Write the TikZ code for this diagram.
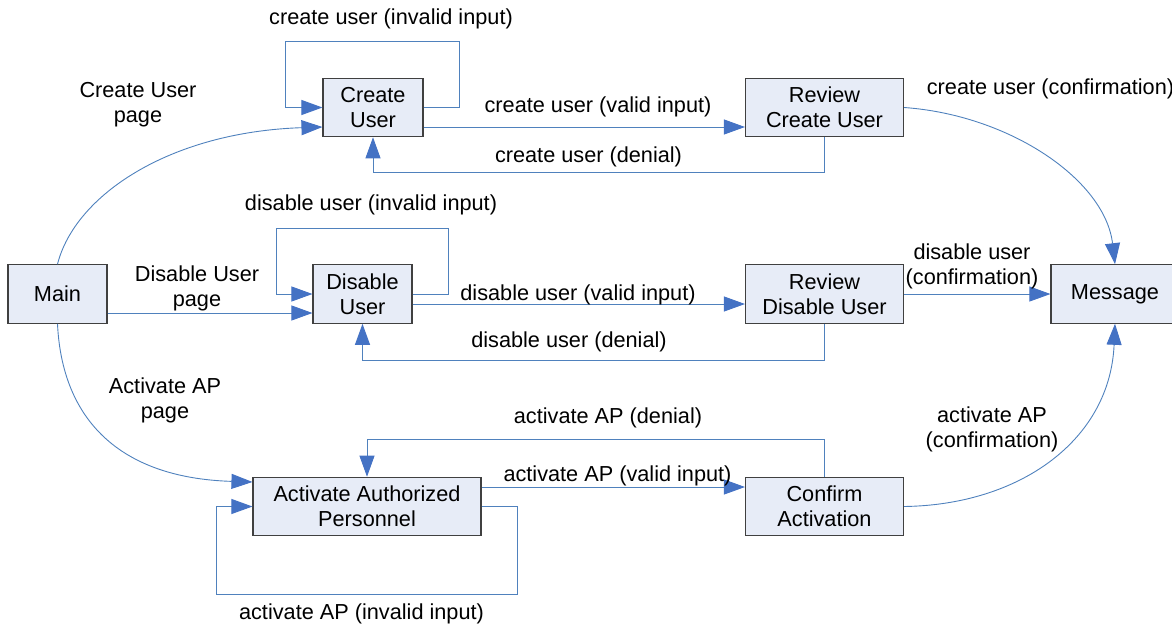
\documentclass[tikz,border=0pt]{standalone}
\usepackage{fontspec}
\setmainfont{Liberation Sans}
\usetikzlibrary{arrows.meta,calc}
\definecolor{linkblue}{RGB}{79,129,189}
\definecolor{headblue}{RGB}{68,114,196}
\definecolor{boxfill}{RGB}{231,236,247}
\definecolor{boxedge}{RGB}{64,64,64}

\begin{document}
\begin{tikzpicture}[x=1pt,y=-1pt,
  font=\fontsize{21.7}{25}\selectfont,
  state/.style={draw=boxedge, line width=1.1pt, fill=boxfill,
    minimum height=58.5pt, align=center, inner sep=0pt},
  flow/.style={draw=linkblue, line width=0.9pt,
    -{Triangle[length=21pt,width=15pt,color=headblue]}},
  lbl/.style={inner sep=0pt, align=center}]

\useasboundingbox (0,0) rectangle (1172,626);

% screens
\node[state, minimum width=100pt] (cu)   at (373,107.5)   {Create\\User};
\node[state, minimum width=158pt] (rcu)  at (824.5,107.5) {Review\\Create User};
\node[state, minimum width=99pt]  (main) at (57.5,294)    {Main};
\node[state, minimum width=99pt]  (du)   at (362.5,294)   {Disable\\User};
\node[state, minimum width=158pt] (rdu)  at (824.5,294)   {Review\\Disable User};
\node[state, minimum width=128pt] (msg)  at (1115,294)    {Message};
\node[state, minimum width=228pt] (aap)  at (367,506.5)   {Activate Authorized\\Personnel};
\node[state, minimum width=158pt] (ca)   at (824.5,506.5) {Confirm\\Activation};

% from the main page
\draw[flow] (main.north) .. controls (75,195) and (170,132) .. ($(cu.west)+(0,19.5)$);
\draw[flow] ($(main.east)+(0,19)$) -- ($(du.west)+(0,19)$);
\draw[flow] (main.south) .. controls (62,420) and (120,478) .. ($(aap.west)+(0,-24.5)$);

% create user
\draw[flow] (cu.east) -- ++(36,0) -- ++(0,-66.5) -| ($(cu.west)+(-37,0)$) -- (cu.west);
\draw[flow] ($(cu.east)+(0,19.5)$) -- ($(rcu.west)+(0,19.5)$);
\draw[flow] (rcu.south) -- ++(0,35.5) -| (cu.south);
\draw[flow] (rcu.east) .. controls (1010,115) and (1105,180) .. (msg.north);

% disable user
\draw[flow] (du.east) -- ++(36,0) -- ++(0,-66) -| ($(du.west)+(-36,0)$) -- (du.west);
\draw[flow] ($(du.east)+(0,10)$) -- ($(rdu.west)+(0,10)$);
\draw[flow] (rdu.south) -- ++(0,37) -| (du.south);
\draw[flow] (rdu.east) -- (msg.west);

% activate authorized personnel
\draw[flow] (aap.east) -- ++(36,0) -- ++(0,87.5) -| ($(aap.west)+(-36,0)$) -- (aap.west);
\draw[flow] ($(aap.east)+(0,-19.5)$) -- ($(ca.west)+(0,-19.5)$);
\draw[flow] (ca.north) -- ++(0,-37.5) -| (aap.north);
\draw[flow] (ca.east) .. controls (1020,505) and (1110,440) .. (msg.south);

% transition labels
\node[lbl] (l1)  at (391,19)      {create user (invalid input)};
\node[lbl] (l2)  at (138,105)     {Create User\\page};
\node[lbl] (l3)  at (598,107)     {create user (valid input)};
\node[lbl] (l4)  at (588.5,156.5) {create user (denial)};
\node[lbl] (l5)  at (1050.5,88.7) {create user (confirmation)};
\node[lbl] (l6)  at (371,205)     {disable user (invalid input)};
\node[lbl] (l7)  at (197,288.5)   {Disable User\\page};
\node[lbl] (l8)  at (578,294.5)   {disable user (valid input)};
\node[lbl] (l9)  at (569,342)     {disable user (denial)};
\node[lbl] (l10) at (972,266.5)   {disable user\\(confirmation)};
\node[lbl] (l11) at (165,400.5)   {Activate AP\\page};
\node[lbl] (l12) at (608,418)     {activate AP (denial)};
\node[lbl] (l13) at (992,429)     {activate AP\\(confirmation)};
\node[lbl] (l14) at (617.5,476)   {activate AP (valid input)};
\node[lbl] (l15) at (361.5,614)   {activate AP (invalid input)};
\end{tikzpicture}
\end{document}
